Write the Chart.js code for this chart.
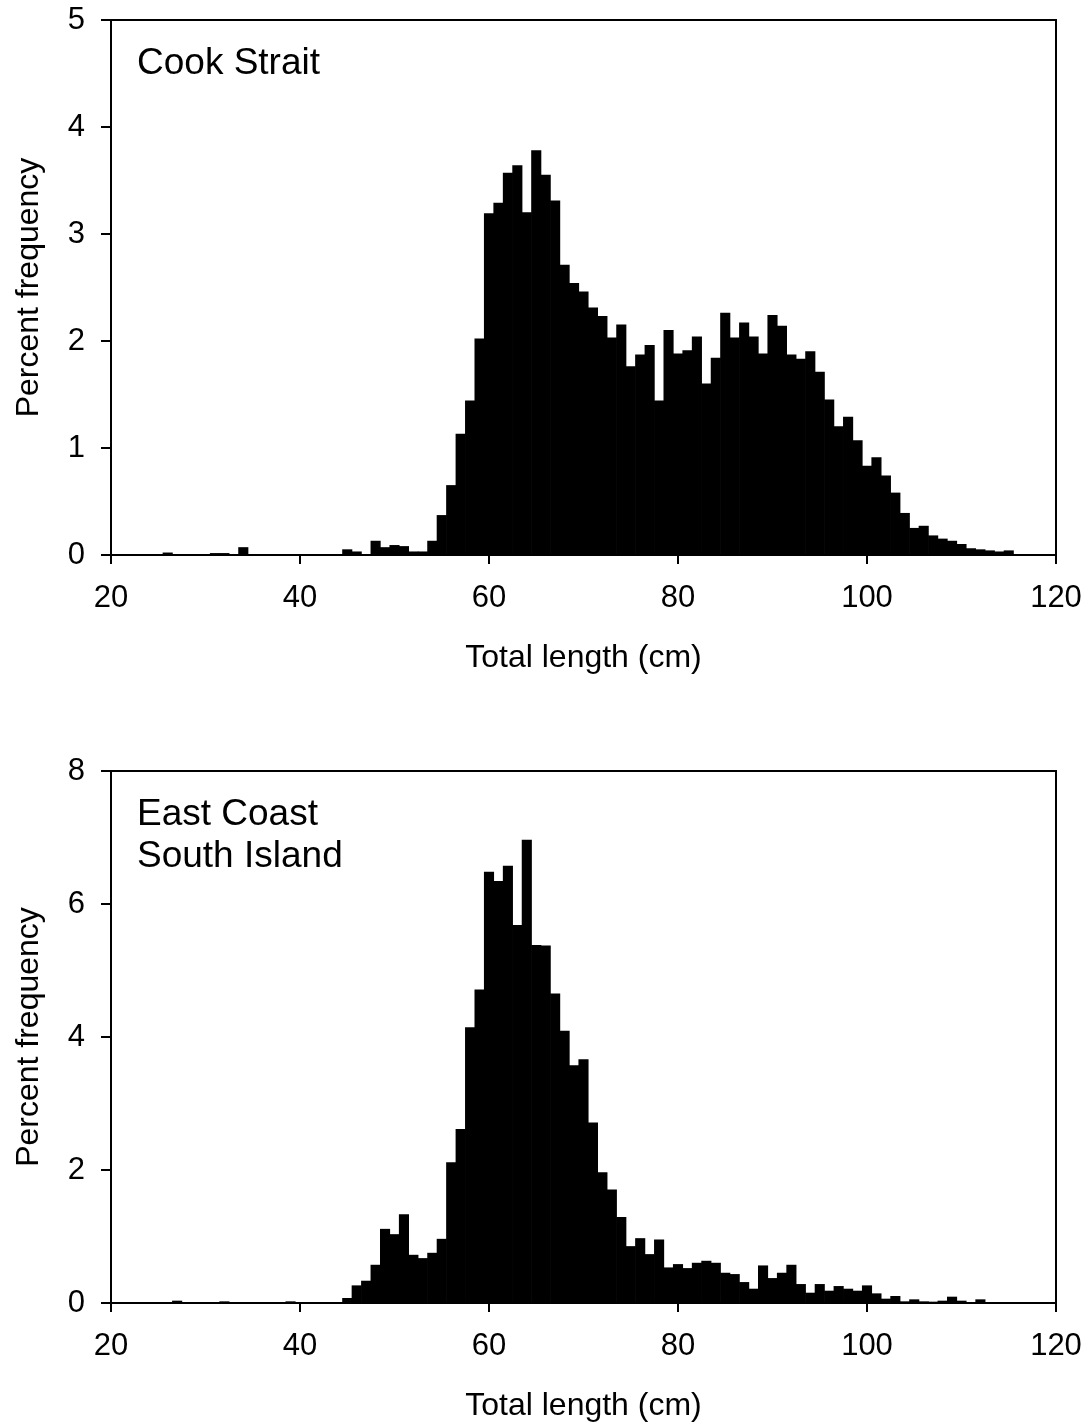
<!DOCTYPE html>
<html>
<head>
<meta charset="utf-8">
<script src="https://cdn.jsdelivr.net/npm/chart.js@4.4.0/dist/chart.umd.min.js"></script>
<style>
  html, body { margin: 0; padding: 0; background: #fff; }
  canvas { display: block; }
</style>
</head>
<body>
<canvas id="chart_cs" width="1090" height="720"></canvas>
<canvas id="chart_ec" width="1090" height="707"></canvas>
<script>
// length classes (cm)
var lengths = [25, 26, 27, 28, 29, 30, 31, 32, 33, 34,
  35, 36, 37, 38, 39, 40, 41, 42, 43, 44,
  45, 46, 47, 48, 49, 50, 51, 52, 53, 54,
  55, 56, 57, 58, 59, 60, 61, 62, 63, 64,
  65, 66, 67, 68, 69, 70, 71, 72, 73, 74,
  75, 76, 77, 78, 79, 80, 81, 82, 83, 84,
  85, 86, 87, 88, 89, 90, 91, 92, 93, 94,
  95, 96, 97, 98, 99, 100, 101, 102, 103, 104,
  105, 106, 107, 108, 109, 110, 111, 112, 113, 114, 115];

// percent frequency, Cook Strait
var cookStrait = [0, 0.02, 0, 0, 0, 0, 0.015, 0.015, 0, 0.07,
  0, 0, 0, 0, 0, 0, 0, 0, 0, 0,
  0.05, 0.03, 0, 0.13, 0.07, 0.09, 0.08, 0.03, 0.03, 0.13,
  0.37, 0.65, 1.13, 1.44, 2.02, 3.19, 3.29, 3.57, 3.64, 3.20,
  3.78, 3.55, 3.31, 2.71, 2.54, 2.46, 2.31, 2.23, 2.03, 2.15,
  1.76, 1.87, 1.96, 1.44, 2.10, 1.88, 1.91, 2.04, 1.60, 1.84,
  2.26, 2.03, 2.17, 2.04, 1.88, 2.24, 2.14, 1.87, 1.83, 1.90,
  1.71, 1.45, 1.20, 1.29, 1.07, 0.83, 0.91, 0.74, 0.58, 0.39,
  0.25, 0.27, 0.18, 0.15, 0.13, 0.10, 0.06, 0.05, 0.04, 0.03, 0.04];

// percent frequency, East Coast South Island
var eastCoast = [0, 0, 0.03, 0, 0, 0, 0, 0.02, 0, 0,
  0, 0, 0, 0, 0.02, 0, 0, 0, 0, 0,
  0.07, 0.26, 0.33, 0.57, 1.11, 1.03, 1.33, 0.72, 0.67, 0.75,
  0.96, 2.11, 2.61, 4.14, 4.71, 6.48, 6.34, 6.57, 5.68, 6.96,
  5.38, 5.37, 4.65, 4.09, 3.57, 3.66, 2.71, 1.96, 1.70, 1.29,
  0.85, 0.97, 0.73, 0.95, 0.53, 0.58, 0.52, 0.60, 0.63, 0.60,
  0.45, 0.43, 0.31, 0.21, 0.56, 0.37, 0.45, 0.57, 0.28, 0.15,
  0.28, 0.18, 0.25, 0.21, 0.18, 0.26, 0.14, 0.06, 0.10, 0.02,
  0.05, 0.02, 0.01, 0.03, 0.09, 0.03, 0, 0.05, 0, 0, 0];

var xTicks = [20, 40, 60, 80, 100, 120];
var yTicksCS = [0, 1, 2, 3, 4, 5];
var yTicksEC = [0, 2, 4, 6, 8];

Chart.defaults.font.family = "'Liberation Sans', Arial, sans-serif";
Chart.defaults.color = "#000";

// box round the plot area
var framePlugin = {
  id: "frame",
  afterDatasetsDraw: function (chart) {
    var a = chart.chartArea;
    var ctx = chart.ctx;
    ctx.save();
    ctx.strokeStyle = "#000";
    ctx.lineWidth = 2;
    ctx.strokeRect(a.left, a.top, a.right - a.left, a.bottom - a.top);
    ctx.restore();
  }
};

// area name written inside the plot
var panelLabelPlugin = {
  id: "panelLabel",
  afterDraw: function (chart, args, opts) {
    var ctx = chart.ctx;
    ctx.save();
    ctx.fillStyle = "#000";
    ctx.font = opts.size + "px 'Liberation Sans', Arial, sans-serif";
    ctx.textBaseline = "alphabetic";
    ctx.textAlign = "left";
    opts.lines.forEach(function (line, i) {
      ctx.fillText(line, opts.x, opts.y + i * opts.lineHeight);
    });
    ctx.restore();
  }
};

function make_chart(id, values, yTicks, cfg) {
  var points = lengths.map(function (x, i) {
    return { x: x, y: values[i] };
  });
  return new Chart(document.getElementById(id).getContext("2d"), {
    type: "bar",
    data: {
      datasets: [
        {
          data: points,
          backgroundColor: "#000",
          borderWidth: 0,
          barPercentage: 1,
          categoryPercentage: 1,
        },
      ],
    },
    plugins: [framePlugin, panelLabelPlugin],
    options: {
      responsive: false,
      animation: false,
      layout: { padding: { left: 0, right: 34, top: cfg.top, bottom: 0 } },
      plugins: {
        legend: { display: false },
        tooltip: { enabled: false },
        panelLabel: { lines: cfg.label, x: 137, y: cfg.labelY, size: 37, lineHeight: 42 },
      },
      scales: {
        x: {
          type: "linear",
          min: xTicks[0],
          max: xTicks[xTicks.length - 1],
          offset: false,
          afterBuildTicks: function (s) {
            s.ticks = xTicks.map(function (v) { return { value: v }; });
          },
          ticks: { font: { size: 31 }, padding: 16, maxRotation: 0 },
          grid: { drawOnChartArea: false, offset: false, tickLength: 9, color: "#000", lineWidth: 2 },
          border: { display: false },
          title: {
            display: true,
            text: "Total length (cm)",
            font: { size: 32 },
            padding: { top: 0, bottom: cfg.titlePad },
          },
          afterFit: function (s) {
            s.height = cfg.xHeight;
            s.paddingLeft = 0;
            s.paddingRight = 0;
          },
        },
        y: {
          type: "linear",
          min: yTicks[0],
          max: yTicks[yTicks.length - 1],
          afterBuildTicks: function (s) {
            s.ticks = yTicks.map(function (v) { return { value: v }; });
          },
          ticks: { font: { size: 31 }, padding: 16 },
          grid: { drawOnChartArea: false, tickLength: 10, color: "#000", lineWidth: 2 },
          border: { display: false },
          title: {
            display: true,
            text: "Percent frequency",
            font: { size: 32 },
            padding: { top: 10, bottom: 0 },
          },
          afterFit: function (s) {
            s.width = 111;
            s.paddingTop = 0;
            s.paddingBottom = 0;
          },
        },
      },
    },
  });
}

make_chart("chart_cs", cookStrait, yTicksCS, {
  top: 20, xHeight: 165, titlePad: 43, label: ["Cook Strait"], labelY: 74
});
make_chart("chart_ec", eastCoast, yTicksEC, {
  top: 51, xHeight: 124, titlePad: 2, label: ["East Coast", "South Island"], labelY: 105
});
</script>
</body>
</html>
